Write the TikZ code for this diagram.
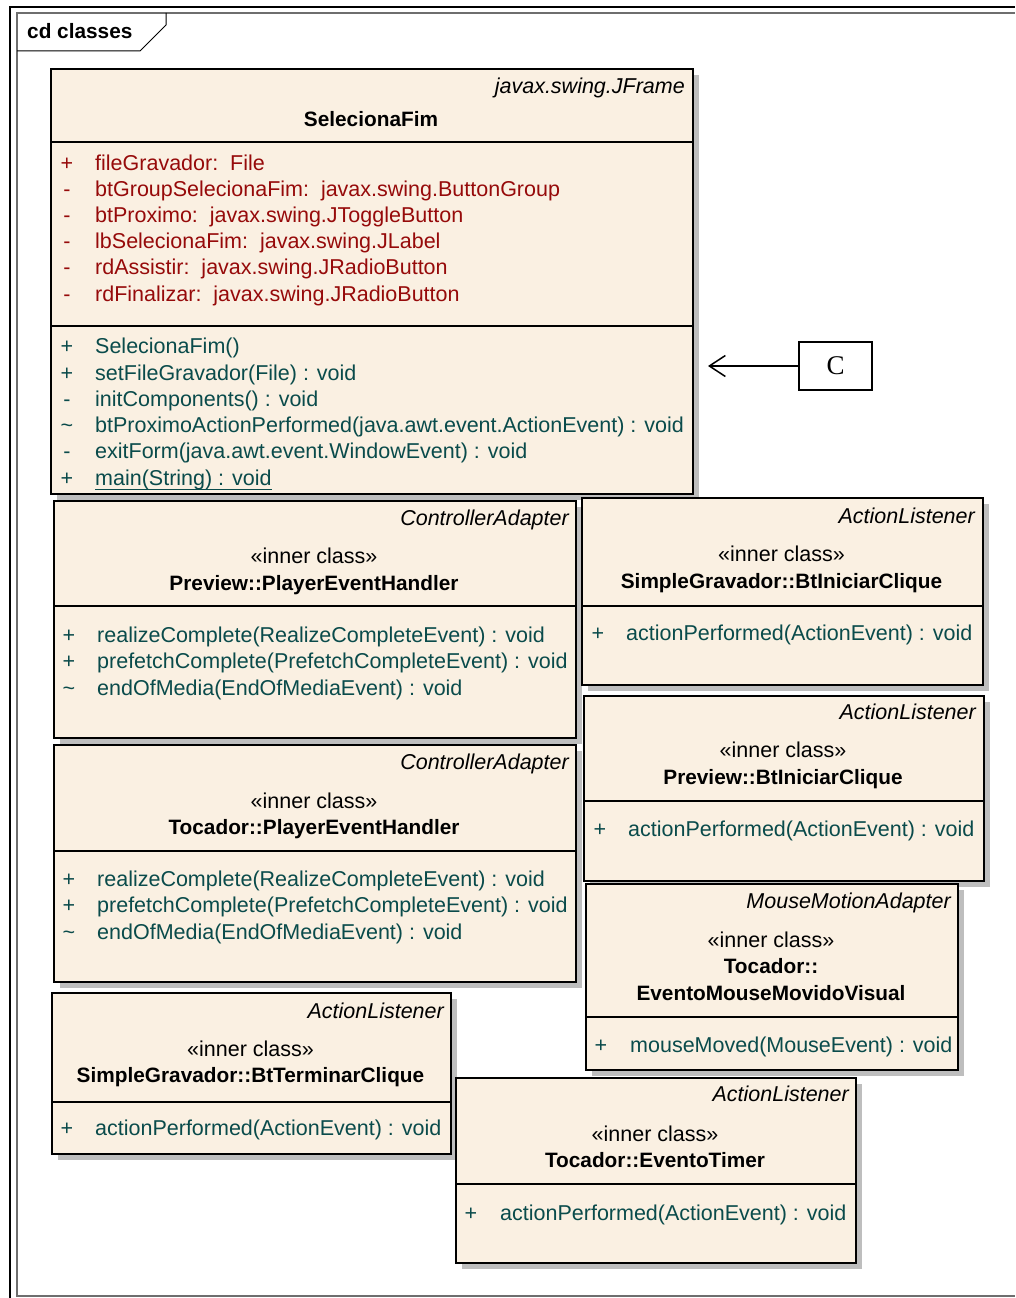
\documentclass[tikz,border=0pt]{standalone}
\usepackage{fontspec}
\setmainfont{Liberation Sans}
\newfontfamily\cfont{Liberation Serif}
\usetikzlibrary{shadows,arrows.meta}

\definecolor{classfill}{RGB}{250,240,226}
\definecolor{attrred}{RGB}{150,10,10}
\definecolor{opteal}{RGB}{10,75,75}
\definecolor{shadowgray}{RGB}{190,190,190}
\definecolor{framegray}{RGB}{110,110,110}

\newcommand\dfont{\fontsize{21.5}{26}\selectfont}
\newcommand\bfont{\fontsize{20.8}{26}\selectfont\bfseries}

\tikzset{
  classbox/.style={draw=black, line width=1.6pt, fill=classfill, inner sep=0pt,
    rectangle, anchor=north west,
    drop shadow={shadow xshift=6pt, shadow yshift=-6pt, fill=shadowgray, opacity=1}},
  divider/.style={draw=black, line width=1.6pt},
  parent/.style={anchor=base east, font=\dfont\itshape, text=black, yshift=-1.5pt},
  stereo/.style={anchor=base, font=\dfont, text=black, yshift=-1.5pt},
  cname/.style={anchor=base, font=\bfont, text=black, yshift=-1.5pt},
  attr/.style={anchor=base west, font=\dfont, text=attrred, yshift=-1.5pt},
  attrvis/.style={anchor=base, font=\dfont, text=attrred, yshift=-1.5pt},
  oper/.style={anchor=base west, font=\dfont, text=opteal, yshift=-1.5pt},
  opervis/.style={anchor=base, font=\dfont, text=opteal, yshift=-1.5pt},
  notebox/.style={draw=black, line width=1.5pt, fill=white, minimum width=73pt,
    minimum height=48pt, inner sep=0pt, font=\cfont\fontsize{27}{30}\selectfont},
  connector/.style={draw=black, line width=1.5pt,
    -{Straight Barb[length=16pt,width=21pt,line width=1.5pt]}},
}

\begin{document}
\begin{tikzpicture}[x=1pt, y=-1pt, inner sep=0pt]
\useasboundingbox (0,0) rectangle (1015,1298);

% diagram frame
\draw[black, line width=2.5pt] (10,1298) -- (10,7) -- (1015,7);
\draw[framegray, line width=1.4pt] (1015,13) -- (17,13) -- (17,1296) -- (1015,1296);
\draw[black, line width=1pt] (17,51) -- (140,51) -- (166,25) -- (166,13);
\node[anchor=base west, font=\bfont] (frametitle) at (27,39) {cd classes};

% SelecionaFim
\node[classbox, minimum width=642pt, minimum height=425pt] (sel) at (50,68) {};
\draw[divider] (50,142) -- (692,142);
\draw[divider] (50,326) -- (692,326);
\node[parent] (selP) at (685,91.5) {javax.swing.JFrame};
\node[cname] (selN) at (371,124.5) {SelecionaFim};
\node[attrvis] (sa1v) at (67,168.5) {+};
\node[attr] (sa1) at (95,168.5) {fileGravador:\ \ File};
\node[attrvis] (sa2v) at (67,194.5) {-};
\node[attr] (sa2) at (95,194.5) {btGroupSelecionaFim:\ \ javax.swing.ButtonGroup};
\node[attrvis] (sa3v) at (67,220.5) {-};
\node[attr] (sa3) at (95,220.5) {btProximo:\ \ javax.swing.JToggleButton};
\node[attrvis] (sa4v) at (67,246.5) {-};
\node[attr] (sa4) at (95,246.5) {lbSelecionaFim:\ \ javax.swing.JLabel};
\node[attrvis] (sa5v) at (67,272.5) {-};
\node[attr] (sa5) at (95,272.5) {rdAssistir:\ \ javax.swing.JRadioButton};
\node[attrvis] (sa6v) at (67,299.5) {-};
\node[attr] (sa6) at (95,299.5) {rdFinalizar:\ \ javax.swing.JRadioButton};
\node[opervis] (so1v) at (67,351.5) {+};
\node[oper] (so1) at (95,351.5) {SelecionaFim()};
\node[opervis] (so2v) at (67,378.5) {+};
\node[oper] (so2) at (95,378.5) {setFileGravador(File) : void};
\node[opervis] (so3v) at (67,404.5) {-};
\node[oper] (so3) at (95,404.5) {initComponents() : void};
\node[opervis] (so4v) at (67,430.5) {\textasciitilde};
\node[oper] (so4) at (95,430.5) {btProximoActionPerformed(java.awt.event.ActionEvent) : void};
\node[opervis] (so5v) at (67,456.5) {-};
\node[oper] (so5) at (95,456.5) {exitForm(java.awt.event.WindowEvent) : void};
\node[opervis] (so6v) at (67,483.5) {+};
\node[oper] (so6) at (95,483.5) {main(String) : void};
\draw[opteal, line width=1.2pt] (so6.base west) ++(0,4.5) -- ([yshift=-4.5pt]so6.base east);

% note C pointing at SelecionaFim
\node[notebox] (C) at (835.5,366) {C};
\coordinate (Ctip) at (708,366);
\draw[connector] (C) -- (Ctip);

% Preview::PlayerEventHandler
\node[classbox, minimum width=522pt, minimum height=237pt] (pvh) at (53,500) {};
\draw[divider] (53,606) -- (575,606);
\node[parent] (pvhP) at (569,523.5) {ControllerAdapter};
\node[stereo] (pvhS) at (314,561.5) {«inner class»};
\node[cname] (pvhN) at (314,588.5) {Preview::PlayerEventHandler};
\node[opervis] (pvh1v) at (69,640.5) {+};
\node[oper] (pvh1) at (97,640.5) {realizeComplete(RealizeCompleteEvent) : void};
\node[opervis] (pvh2v) at (69,666.5) {+};
\node[oper] (pvh2) at (97,666.5) {prefetchComplete(PrefetchCompleteEvent) : void};
\node[opervis] (pvh3v) at (69,693.5) {\textasciitilde};
\node[oper] (pvh3) at (97,693.5) {endOfMedia(EndOfMediaEvent) : void};

% Tocador::PlayerEventHandler
\node[classbox, minimum width=522pt, minimum height=237pt] (tph) at (53,744) {};
\draw[divider] (53,851) -- (575,851);
\node[parent] (tphP) at (569,767.5) {ControllerAdapter};
\node[stereo] (tphS) at (314,806.5) {«inner class»};
\node[cname] (tphN) at (314,832.5) {Tocador::PlayerEventHandler};
\node[opervis] (tph1v) at (69,884.5) {+};
\node[oper] (tph1) at (97,884.5) {realizeComplete(RealizeCompleteEvent) : void};
\node[opervis] (tph2v) at (69,910.5) {+};
\node[oper] (tph2) at (97,910.5) {prefetchComplete(PrefetchCompleteEvent) : void};
\node[opervis] (tph3v) at (69,937.5) {\textasciitilde};
\node[oper] (tph3) at (97,937.5) {endOfMedia(EndOfMediaEvent) : void};

% SimpleGravador::BtIniciarClique
\node[classbox, minimum width=401pt, minimum height=187pt] (sgi) at (581,497) {};
\draw[divider] (581,606) -- (982,606);
\node[parent] (sgiP) at (975,521.5) {ActionListener};
\node[stereo] (sgiS) at (781.5,559.5) {«inner class»};
\node[cname] (sgiN) at (781.5,586.5) {SimpleGravador::BtIniciarClique};
\node[opervis] (sgi1v) at (598,638.5) {+};
\node[oper] (sgi1) at (626,638.5) {actionPerformed(ActionEvent) : void};

% Preview::BtIniciarClique
\node[classbox, minimum width=400pt, minimum height=185pt] (pbi) at (583,695) {};
\draw[divider] (583,801) -- (983,801);
\node[parent] (pbiP) at (976,717.5) {ActionListener};
\node[stereo] (pbiS) at (783,755.5) {«inner class»};
\node[cname] (pbiN) at (783,782.5) {Preview::BtIniciarClique};
\node[opervis] (pbi1v) at (600,834.5) {+};
\node[oper] (pbi1) at (628,834.5) {actionPerformed(ActionEvent) : void};

% Tocador::EventoMouseMovidoVisual
\node[classbox, minimum width=372pt, minimum height=186pt] (emv) at (585,883) {};
\draw[divider] (585,1017) -- (957,1017);
\node[parent] (emvP) at (951,906.5) {MouseMotionAdapter};
\node[stereo] (emvS) at (771,945.5) {«inner class»};
\node[cname] (emvN1) at (771,971.5) {Tocador::};
\node[cname] (emvN2) at (771,998.5) {EventoMouseMovidoVisual};
\node[opervis] (emv1v) at (601,1050.5) {+};
\node[oper] (emv1) at (630,1050.5) {mouseMoved(MouseEvent) : void};

% SimpleGravador::BtTerminarClique
\node[classbox, minimum width=399pt, minimum height=161pt] (sgt) at (51,992) {};
\draw[divider] (51,1102) -- (450,1102);
\node[parent] (sgtP) at (444,1016.5) {ActionListener};
\node[stereo] (sgtS) at (250.5,1054.5) {«inner class»};
\node[cname] (sgtN) at (250.5,1080.5) {SimpleGravador::BtTerminarClique};
\node[opervis] (sgt1v) at (67,1133.5) {+};
\node[oper] (sgt1) at (95,1133.5) {actionPerformed(ActionEvent) : void};

% Tocador::EventoTimer
\node[classbox, minimum width=400pt, minimum height=185pt] (tet) at (455,1077) {};
\draw[divider] (455,1184) -- (855,1184);
\node[parent] (tetP) at (849,1099.5) {ActionListener};
\node[stereo] (tetS) at (655,1139.5) {«inner class»};
\node[cname] (tetN) at (655,1165.5) {Tocador::EventoTimer};
\node[opervis] (tet1v) at (471,1218.5) {+};
\node[oper] (tet1) at (500,1218.5) {actionPerformed(ActionEvent) : void};

\end{tikzpicture}
\end{document}
